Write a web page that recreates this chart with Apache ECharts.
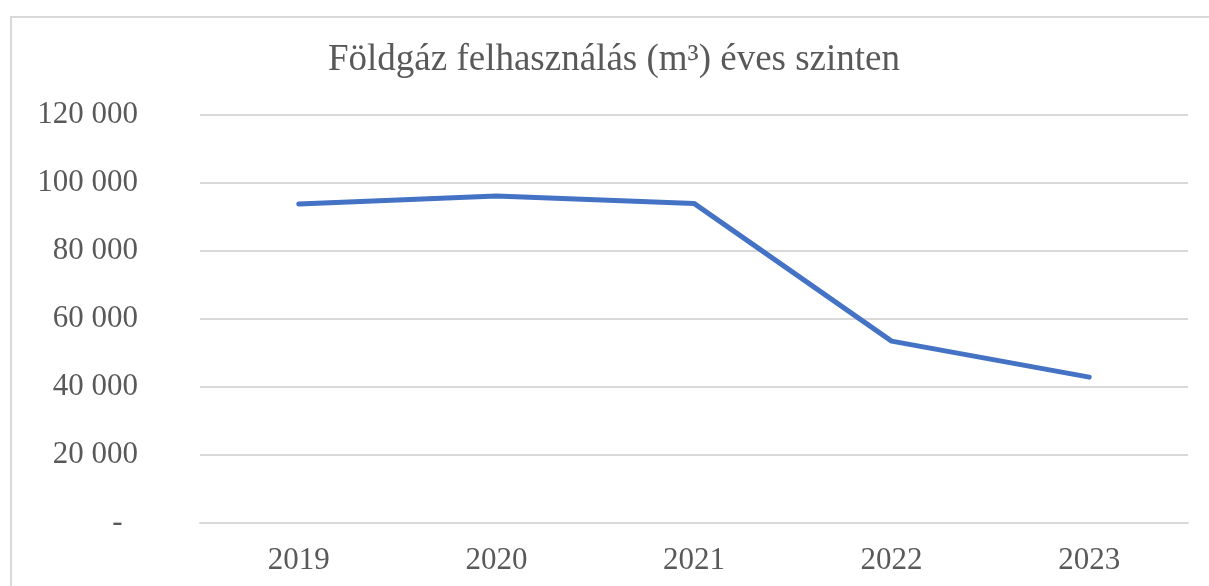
<!DOCTYPE html>
<html><head><meta charset="utf-8">
<script src="https://cdn.jsdelivr.net/npm/echarts@6/dist/echarts.min.js"></script>
<style>html,body{margin:0;padding:0;background:#fff}#c{width:1209px;height:586px}</style>
</head><body><div id="c"></div>
<script>
const titleText = 'Földgáz felhasználás (m³) éves szinten';
const years = ['2019', '2020', '2021', '2022', '2023'];
const gasUse = [93800, 96200, 94000, 53500, 42900];
const yMin = 0, yMax = 120000, yStep = 20000;

const chart = echarts.init(document.getElementById('c'), null, {renderer: 'canvas'});
const FONT = '"Liberation Serif", "Times New Roman", serif';
chart.setOption({
  backgroundColor: '#fff',
  animation: false,
  graphic: [{
    type: 'polyline', silent: true,
    shape: {points: [[11, 600], [11, 17], [1230, 17]]},
    style: {stroke: '#d9d9d9', lineWidth: 2, fill: null}
  }],
  title: {
    text: titleText, left: 609, top: 37, textAlign: 'center',
    textStyle: {fontFamily: FONT, fontSize: 37, fontWeight: 'normal', color: '#595959'}
  },
  grid: {left: 200, right: 21, top: 115, bottom: 63, containLabel: false},
  xAxis: {
    type: 'category', data: years, boundaryGap: true,
    axisLine: {show: true, lineStyle: {color: '#d9d9d9', width: 2}},
    axisTick: {show: false},
    axisLabel: {fontFamily: FONT, fontSize: 31, color: '#595959', margin: 22}
  },
  yAxis: {
    type: 'value', min: yMin, max: yMax, interval: yStep,
    axisLine: {show: false}, axisTick: {show: false},
    splitLine: {lineStyle: {color: '#d9d9d9', width: 2}},
    axisLabel: {
      fontFamily: FONT, fontSize: 31, color: '#595959', margin: 62,
      formatter: v => v === 0 ? '-\u00a0\u00a0' : String(v).replace(/\B(?=(\d{3})+(?!\d))/g, ' ')
    }
  },
  series: [{
    type: 'line', data: gasUse, symbol: 'none',
    lineStyle: {color: '#4472c4', width: 5, cap: 'round', join: 'round'}
  }]
});
</script></body></html>
